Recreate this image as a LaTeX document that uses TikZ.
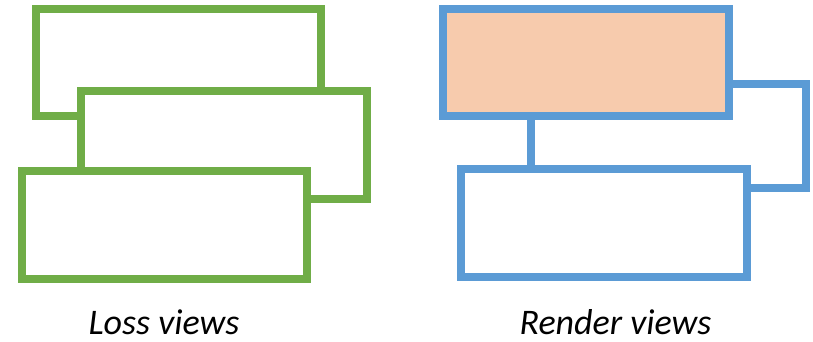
\documentclass[tikz,border=0pt]{standalone}
\usepackage{fontspec}
\setmainfont{Carlito}
\definecolor{vgreen}{HTML}{70AD47}
\definecolor{vblue}{HTML}{5B9BD5}
\definecolor{vpeach}{HTML}{F7CBAD}
\begin{document}
\begin{tikzpicture}[x=1pt,y=-1pt,
  gview/.style={draw=vgreen,line width=8pt,fill=white},
  bview/.style={draw=vblue,line width=8pt,fill=white},
  lbl/.style={anchor=base,inner sep=0pt,font=\fontsize{36}{42}\selectfont\itshape}]
\useasboundingbox (0,0) rectangle (813,342);
% Loss views
\draw[gview] (36,9) rectangle (321,116);
\draw[gview] (81,91) rectangle (367,199);
\draw[gview] (22,171) rectangle (307,279);
% Render views
\draw[bview] (531,84) rectangle (806,188);
\draw[bview,fill=vpeach] (443,9) rectangle (729,116);
\draw[bview] (461,169) rectangle (747,277);
\node[lbl] (loss) at (164,334) {Loss views};
\node[lbl] (render) at (615.5,334) {Render views};
\end{tikzpicture}
\end{document}
